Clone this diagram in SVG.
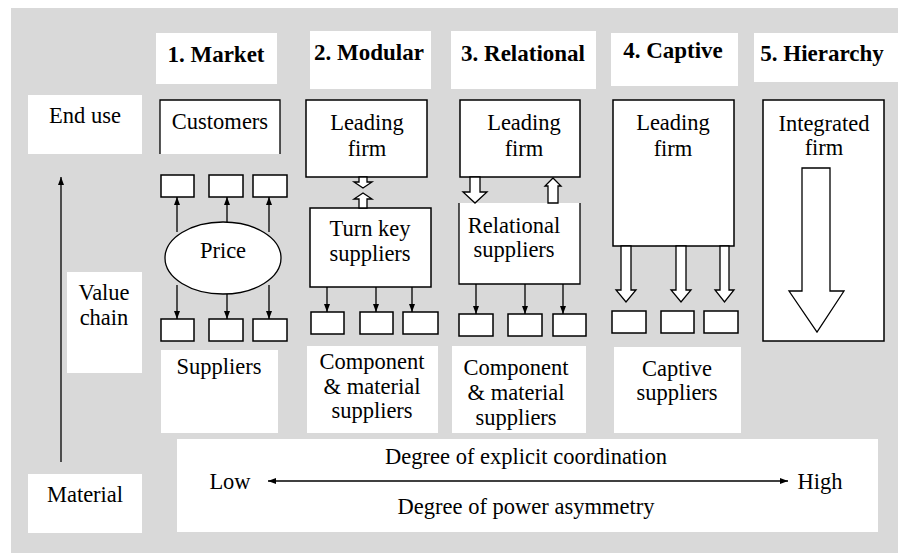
<svg xmlns="http://www.w3.org/2000/svg" width="898" height="553" viewBox="0 0 898 553">
<defs>
<style>
text{font-family:"Liberation Serif","Times New Roman","DejaVu Serif",serif;font-size:22.5px;fill:#000;text-anchor:middle}
.h{font-weight:bold;font-size:23px}
.lab{fill:#fff;stroke:none}
.box{fill:#fff;stroke:#000;stroke-width:1.5}
.sb{fill:#fff;stroke:#000;stroke-width:1.5}
.ln{fill:none;stroke:#000;stroke-width:1.3}
.ha{fill:#fff;stroke:#000;stroke-width:1.3;stroke-linejoin:miter}
</style>
<marker id="ah" markerUnits="userSpaceOnUse" markerWidth="9" markerHeight="7" refX="8" refY="3.5" orient="auto-start-reverse">
<path d="M0,0.5 L8,3.5 L0,6.5 z" fill="#000"/>
</marker>
</defs>
<rect x="0" y="0" width="898" height="553" fill="#fff"/>
<rect x="11" y="8" width="887" height="545" fill="#d9d9d9"/>

<g id="headers">
<g id="h-market"><rect class="lab" x="156" y="33" width="121" height="51"/><text class="h" x="216" y="62">1. Market</text></g>
<g id="h-modular"><rect class="lab" x="310" y="31" width="121" height="58"/><text class="h" x="369" y="60">2. Modular</text></g>
<g id="h-relational"><rect class="lab" x="451" y="31" width="145" height="58"/><text class="h" x="523" y="61">3. Relational</text></g>
<g id="h-captive"><rect class="lab" x="611" y="33" width="127" height="53"/><text class="h" x="673" y="58">4. Captive</text></g>
<g id="h-hierarchy"><rect class="lab" x="754" y="33" width="144" height="49"/><text class="h" x="822" y="61">5. Hierarchy</text></g>
</g>

<g id="left-labels">
<g id="end-use"><rect class="lab" x="28" y="95" width="114" height="59"/><text x="85" y="123">End use</text></g>
<g id="value-chain"><rect class="lab" x="67" y="272" width="75" height="101"/><text x="104" y="300">Value</text><text x="104" y="325">chain</text></g>
<g id="material"><rect class="lab" x="28" y="474" width="114" height="59"/><text x="85" y="502">Material</text></g>
</g>

<g id="market">
<g id="customers"><rect class="lab" x="160" y="100" width="120" height="54"/><path class="ln" d="M160,154 V100 H280 V154" stroke-width="1.5"/><text x="220" y="129">Customers</text></g>
<g id="m-top-boxes"><rect class="sb" x="161" y="175" width="33" height="22"/><rect class="sb" x="209" y="175" width="34" height="22"/><rect class="sb" x="253" y="175" width="34" height="22"/></g>
<g id="price"><ellipse cx="223" cy="258" rx="58" ry="36" fill="#fff" stroke="#000" stroke-width="1.3"/><text x="223" y="258">Price</text></g>
<g id="m-bottom-boxes"><rect class="sb" x="161" y="319" width="33" height="22"/><rect class="sb" x="209" y="319" width="34" height="22"/><rect class="sb" x="253" y="319" width="34" height="22"/></g>
<g id="suppliers"><rect class="lab" x="161" y="350" width="117" height="83"/><text x="219" y="374">Suppliers</text></g>
</g>

<g id="modular">
<g id="mod-leading"><rect class="box" x="306" y="100" width="121" height="77"/><text x="367" y="130">Leading</text><text x="367" y="156">firm</text></g>
<g id="turnkey"><rect class="box" x="310" y="208" width="121" height="79"/><text x="370" y="236">Turn key</text><text x="370" y="261">suppliers</text></g>
<g id="mod-boxes"><rect class="sb" x="311" y="312" width="33" height="22"/><rect class="sb" x="360" y="312" width="33" height="22"/><rect class="sb" x="403" y="312" width="35" height="22"/></g>
<g id="mod-comp"><rect class="lab" x="307" y="346" width="131" height="87"/><text x="372" y="369">Component</text><text x="372" y="394">&amp; material</text><text x="372" y="418">suppliers</text></g>
</g>

<g id="relational">
<g id="rel-leading"><rect class="box" x="460" y="100" width="120" height="77"/><text x="524" y="130">Leading</text><text x="524" y="156">firm</text></g>
<g id="rel-suppliers"><rect class="lab" x="459" y="203" width="121" height="81"/><path class="ln" d="M459,203 V284 H580 V203" stroke-width="1.5"/><text x="514" y="233">Relational</text><text x="514" y="257">suppliers</text></g>
<g id="rel-boxes"><rect class="sb" x="459" y="314" width="34" height="22"/><rect class="sb" x="508" y="314" width="34" height="22"/><rect class="sb" x="553" y="314" width="33" height="22"/></g>
<g id="rel-comp"><rect class="lab" x="452" y="346" width="134" height="87"/><text x="516" y="375">Component</text><text x="516" y="400">&amp; material</text><text x="516" y="425">suppliers</text></g>
</g>

<g id="captive">
<g id="cap-leading"><rect class="box" x="613" y="100" width="121" height="146"/><text x="673" y="130">Leading</text><text x="673" y="156">firm</text></g>
<g id="cap-boxes"><rect class="sb" x="612" y="311" width="34" height="22"/><rect class="sb" x="661" y="311" width="33" height="22"/><rect class="sb" x="704" y="311" width="34" height="22"/></g>
<g id="cap-suppliers"><rect class="lab" x="614" y="347" width="127" height="86"/><text x="677" y="376">Captive</text><text x="677" y="400">suppliers</text></g>
</g>

<g id="hierarchy">
<g id="integrated"><rect class="box" x="763" y="100" width="121" height="241"/><text x="824" y="131">Integrated</text><text x="824" y="155">firm</text></g>
</g>

<g id="scale">
<rect class="lab" x="177" y="439" width="701" height="93"/>
<text x="526" y="464">Degree of explicit coordination</text>
<text x="230" y="489">Low</text>
<text x="820" y="489">High</text>
<text x="526" y="514">Degree of power asymmetry</text>
</g>

<g id="connectors">
<line class="ln" x1="61" y1="462" x2="61" y2="177" marker-end="url(#ah)"/>
<line class="ln" x1="177" y1="232" x2="177" y2="197" marker-end="url(#ah)"/>
<line class="ln" x1="227" y1="222" x2="227" y2="197" marker-end="url(#ah)"/>
<line class="ln" x1="269" y1="232" x2="269" y2="197" marker-end="url(#ah)"/>
<line class="ln" x1="177" y1="285" x2="177" y2="319" marker-end="url(#ah)"/>
<line class="ln" x1="227" y1="294" x2="227" y2="319" marker-end="url(#ah)"/>
<line class="ln" x1="269" y1="285" x2="269" y2="319" marker-end="url(#ah)"/>
<line class="ln" x1="327" y1="287" x2="327" y2="312" marker-end="url(#ah)"/>
<line class="ln" x1="376" y1="287" x2="376" y2="312" marker-end="url(#ah)"/>
<line class="ln" x1="412" y1="287" x2="412" y2="312" marker-end="url(#ah)"/>
<line class="ln" x1="476" y1="284" x2="476" y2="314" marker-end="url(#ah)"/>
<line class="ln" x1="525" y1="284" x2="525" y2="314" marker-end="url(#ah)"/>
<line class="ln" x1="563" y1="284" x2="563" y2="314" marker-end="url(#ah)"/>
<line class="ln" x1="268" y1="481" x2="788" y2="481" marker-start="url(#ah)" marker-end="url(#ah)"/>
<polygon class="ha" points="359,177 367,177 367,182 372,182 363,188 354,182 359,182"/>
<polygon class="ha" points="363,193 372,199 367,199 367,208 359,208 359,199 354,199"/>
<polygon class="ha" points="470,177 480,177 480,192 487,192 475,203 463,192 470,192"/>
<polygon class="ha" points="553,178 561,186 558,186 558,203 548,203 548,186 545,186"/>
<polygon class="ha" points="621,246 631,246 631,290 636,290 626,302 616,290 621,290"/>
<polygon class="ha" points="676,246 686,246 686,290 691,290 681,302 671,290 676,290"/>
<polygon class="ha" points="720,246 729,246 729,290 734,290 724.5,302 715,290 720,290"/>
<polygon class="ha" points="802,168 830,168 830,291 844,291 817,332 789,291 802,291"/>
</g>
</svg>
